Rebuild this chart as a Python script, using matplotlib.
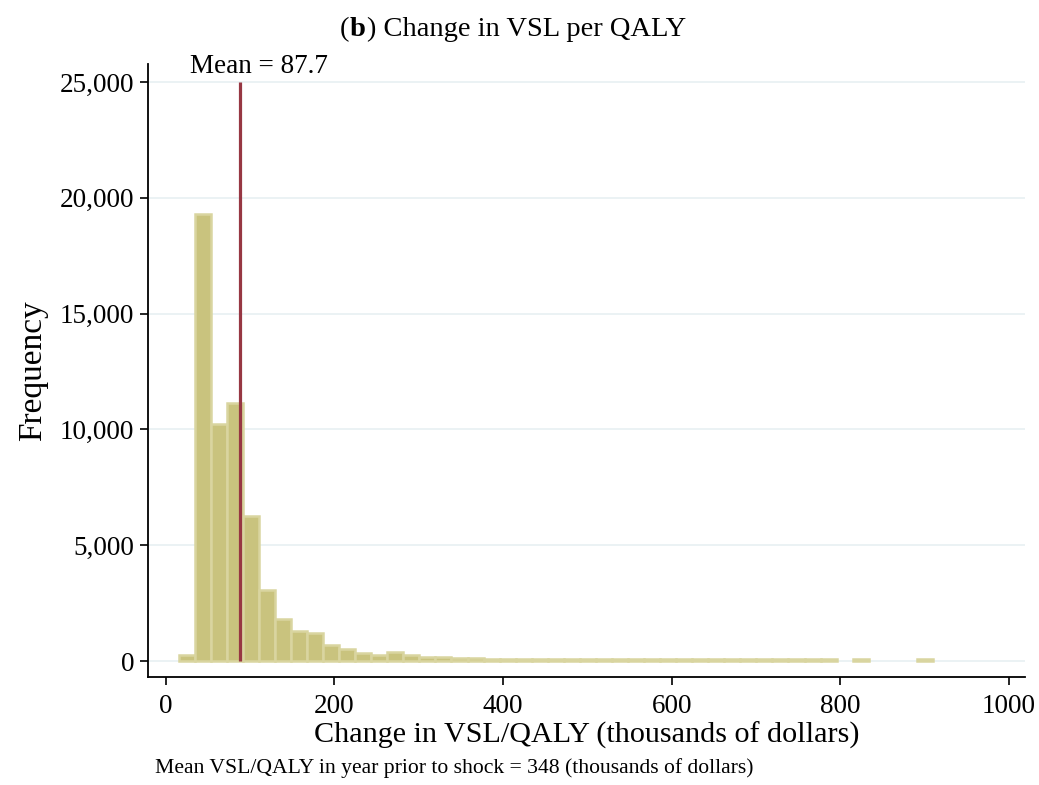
import numpy as np
import matplotlib
matplotlib.use("Agg")
from matplotlib import pyplot as plt

# histogram of the change in VSL per QALY (thousands of dollars)
bin_start = 15.4
bin_width = 19.03
counts = [280, 19300, 10230, 11130, 6250, 3050, 1800, 1280, 1195, 680,
          505, 365, 280, 375, 245, 165, 160, 140, 110, 100,
          95, 90, 90, 85, 85, 80, 80, 80, 80, 80,
          80, 80, 80, 80, 80, 80, 80, 80, 80, 80,
          80, 0, 80, 0, 0, 0, 80]
mean_value = 87.7
prior_mean = 348

x_ticks = [0, 200, 400, 600, 800, 1000]
y_ticks = [0, 5000, 10000, 15000, 20000, 25000]

plt.rcParams['font.family'] = ['Liberation Serif', 'DejaVu Serif']

fig = plt.figure(figsize=(10.39, 7.85), dpi=100)
ax = fig.add_axes([0.1424, 0.1376, 0.8441, 0.7809])

counts = np.array(counts)
edges = bin_start + bin_width * np.arange(len(counts))
keep = counts > 0
ax.bar(edges[keep], counts[keep], width=bin_width, align='edge',
       color='#c9c37e', edgecolor='#d9d5a0', linewidth=1.8, zorder=2)

ax.vlines(mean_value, 0, 25000, color='#973743', linewidth=2.3, zorder=3)
ax.annotate('Mean = %.1f' % mean_value, xy=(mean_value, 25000),
            xytext=(14, 2), textcoords='offset points',
            ha='center', va='bottom', fontsize=19.5)

ax.set_xlim(-21, 1019)
ax.set_ylim(-690, 25780)
ax.set_xticks(x_ticks)
ax.set_yticks(y_ticks)
ax.set_yticklabels(['{:,}'.format(v) for v in y_ticks])
ax.grid(axis='y', color='#e9f1f3', linewidth=1.3, zorder=0)
ax.set_axisbelow(True)

for side in ['top', 'right']:
    ax.spines[side].set_visible(False)
for side in ['left', 'bottom']:
    ax.spines[side].set_linewidth(1.3)

ax.tick_params(axis='both', labelsize=19.5, length=6, width=1.2, direction='out')
ax.tick_params(axis='x', pad=6)
ax.tick_params(axis='y', pad=4)

ax.set_xlabel('Change in VSL/QALY (thousands of dollars)', fontsize=21.7, labelpad=2)
ax.set_ylabel('Frequency', fontsize=24, labelpad=8)

# title: "(b)" with bold letter, then plain text
title_y = 0.962
t1 = fig.text(0.327, title_y, '(', fontsize=20.5, ha='left', va='center')
t2 = ax.annotate('b', xy=(1, 0), xycoords=t1, xytext=(0.5, 0), textcoords='offset points',
                 fontsize=20.5, fontweight='bold', ha='left', va='bottom')
t3 = ax.annotate(') Change in VSL per QALY', xy=(1, 0), xycoords=t2, xytext=(0.5, 0),
                 textcoords='offset points', fontsize=20.5, ha='left', va='bottom')

fig.text(0.149, 0.021, 'Mean VSL/QALY in year prior to shock = %d (thousands of dollars)' % prior_mean,
         fontsize=15.6, ha='left', va='center')

fig.savefig('out.png', dpi=100)
